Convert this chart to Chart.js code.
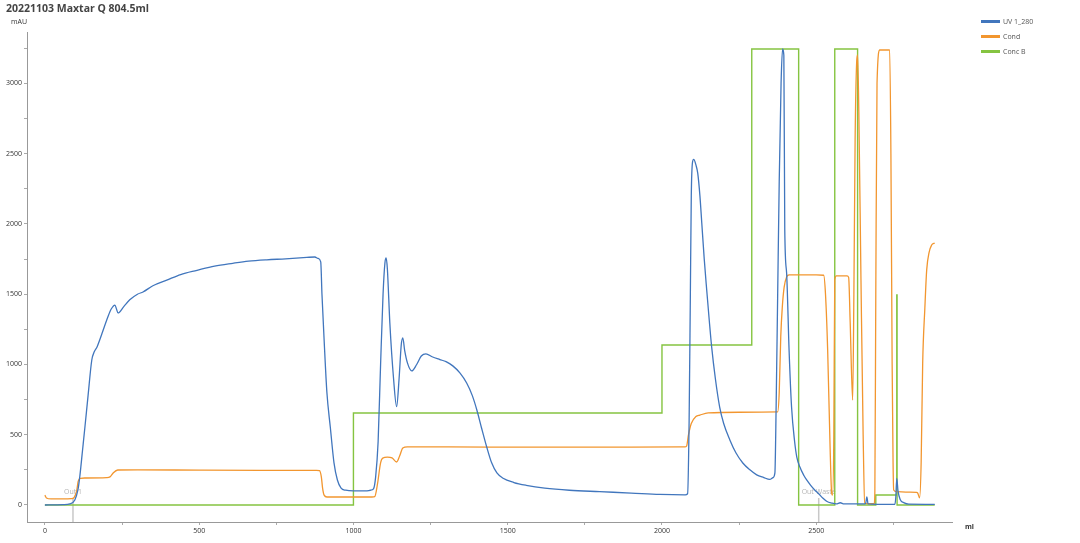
<!DOCTYPE html>
<html>
<head>
<meta charset="utf-8">
<script src="https://cdn.jsdelivr.net/npm/chart.js@4.4.1/dist/chart.umd.min.js"></script>
<style>
  html, body { margin: 0; padding: 0; background: #fff; }
  #wrap { position: relative; width: 1080px; height: 543px; font-family: 'Open Sans', sans-serif; }
  #chart { position: absolute; left: 0; top: 0; }
  #title { position: absolute; left: 6px; top: 0; font-size: 10.5px; line-height: 16px; font-weight: bold; color: #444; }
  .unit { position: absolute; font-size: 7px; line-height: 10px; color: #333; }
  #legend { position: absolute; left: 981px; top: 14px; }
  .lg { display: flex; align-items: center; height: 15px; font-size: 7px; color: #555; white-space: nowrap; }
  .lg .sw { display: inline-block; width: 19px; height: 3px; margin-right: 3px; }
</style>
</head>
<body>
<div id="wrap">
  <canvas id="chart" width="1080" height="543"></canvas>
  <div id="title">20221103 Maxtar Q 804.5ml</div>
  <div class="unit" style="left:11px;top:17px;">mAU</div>
  <div class="unit" style="left:965px;top:522px;font-weight:bold;">ml</div>
  <div id="legend"></div>
</div>
<script>
// UV 1_280 trace (ml, mAU)
const uvMl  = [0, 60, 81, 97, 107, 113, 122, 130, 140, 152, 160, 169, 185, 204, 215, 227, 232, 237, 255, 275,
  300, 318, 350, 395, 440, 493, 550, 609, 660, 719, 780, 849, 875, 885, 894, 898, 905, 914, 925, 937, 948, 960,
  975, 1000, 1040, 1055, 1065, 1072, 1080, 1088, 1096, 1102, 1106, 1110, 1118, 1130, 1140, 1148, 1155, 1160, 1166, 1175,
  1189, 1205, 1220, 1235, 1255, 1280, 1300, 1322, 1345, 1367, 1385, 1400, 1415, 1432, 1448, 1465, 1485, 1520, 1560, 1620,
  1700, 1798, 1900, 1993, 2075, 2083, 2088, 2092, 2095, 2099, 2103, 2110, 2116, 2123, 2129, 2137, 2145, 2153, 2161, 2173,
  2187, 2200, 2220, 2240, 2262, 2285, 2307, 2330, 2349, 2360, 2366, 2370, 2375, 2380, 2386, 2391, 2395, 2398, 2404, 2412,
  2420, 2430, 2437, 2447, 2460, 2469, 2482, 2495, 2508, 2521, 2535, 2550, 2565, 2578, 2590, 2620, 2650, 2660, 2664, 2668,
  2700, 2755, 2758, 2761, 2765, 2772, 2785, 2800, 2884];
const uvMau = [0, 2, 8, 36, 107, 200, 390, 560, 780, 1032, 1090, 1125, 1220, 1338, 1395, 1423, 1395, 1367, 1410, 1460,
  1500, 1516, 1560, 1600, 1640, 1670, 1700, 1720, 1735, 1745, 1752, 1762, 1765, 1755, 1730, 1500, 1174, 800, 555, 300, 178, 120,
  105, 100, 100, 105, 115, 200, 450, 1000, 1500, 1720, 1758, 1680, 1295, 900, 700, 900, 1140, 1190, 1100, 1011,
  954, 1000, 1060, 1075, 1055, 1035, 1020, 990, 940, 868, 780, 676, 550, 413, 300, 228, 190, 160, 140, 120,
  105, 95, 85, 75, 72, 80, 600, 1500, 2200, 2440, 2460, 2420, 2360, 2200, 2007, 1750, 1530, 1320, 1125, 900,
  697, 580, 463, 370, 299, 250, 214, 195, 182, 195, 228, 700, 1500, 2300, 3000, 3245, 3200, 1957, 1650, 1100,
  697, 450, 341, 270, 210, 178, 140, 107, 80, 50, 25, 14, 8, 16, 8, 8, 8, 10, 57, 8,
  5, 5, 60, 190, 100, 40, 15, 6, 5];

// Cond trace (ml, display units)
const condMl  = [0, 5, 20, 60, 85, 95, 103, 108, 115, 130, 200, 211, 222, 236, 300, 500, 700, 880, 890, 896,
  900, 905, 914, 1000, 1060, 1069, 1078, 1088, 1095, 1110, 1125, 1140, 1150, 1160, 1175, 1300, 1600, 1900, 2074, 2080,
  2086, 2095, 2110, 2123, 2150, 2250, 2375, 2380, 2385, 2390, 2396, 2404, 2412, 2500, 2524, 2530, 2537, 2545, 2550, 2553,
  2557, 2560, 2565, 2600, 2605, 2610, 2618, 2622, 2626, 2631, 2634, 2638, 2645, 2652, 2657, 2665, 2688, 2690, 2693, 2697,
  2706, 2738, 2742, 2746, 2749, 2751, 2760, 2800, 2825, 2829, 2835, 2840, 2845, 2852, 2858, 2866, 2874, 2884];
const condVal = [70, 50, 43, 43, 45, 55, 100, 170, 190, 192, 195, 200, 230, 249, 250, 248, 247, 247, 245, 200,
  120, 70, 57, 57, 57, 60, 150, 300, 334, 340, 335, 306, 350, 405, 413, 413, 412, 412, 413, 420,
  500, 580, 630, 640, 655, 660, 662, 800, 1200, 1409, 1550, 1623, 1637, 1637, 1635, 1500, 1103, 400, 85, 71,
  500, 1601, 1630, 1630, 1620, 1300, 747, 1500, 2600, 3150, 3203, 2800, 1600, 500, 14, 10, 10, 100, 1500, 3000,
  3238, 3238, 2500, 1000, 300, 107, 95, 92, 90, 85, 50, 300, 1010, 1400, 1673, 1800, 1850, 1865];

// Conc B steps (value holds from previous step until the given ml)
const concBMl  = [0, 1000, 2000, 2291, 2443, 2560, 2634, 2693, 2761, 2762, 2884];
const concBVal = [0, 655, 1139, 3245, 0, 3245, 0, 71, 1495, 0, 0];

// fraction marks
const fracMl    = [91, 2508];
const fracNames = ['Out 1', 'Out Waste'];

// axis ticks (labels only on every 500)
const xTicks = [0, 250, 500, 750, 1000, 1250, 1500, 1750, 2000, 2250, 2500, 2750];
const yTicks = [0, 250, 500, 750, 1000, 1250, 1500, 1750, 2000, 2250, 2500, 2750, 3000, 3250];

const seriesNames  = ['UV 1_280', 'Cond', 'Conc B'];
const seriesColors = ['#4176bd', '#f2962f', '#85c441'];

const pts = (xs, ys) => xs.map((x, i) => ({ x, y: ys[i] }));

const fractions = {
  id: 'fractions',
  beforeDatasetsDraw(chart) {
    const { ctx, scales: { x, y }, chartArea } = chart;
    ctx.save();
    ctx.font = '7px "Open Sans", sans-serif';
    ctx.textAlign = 'center';
    ctx.textBaseline = 'middle';
    fracMl.forEach((ml, i) => {
      const px = x.getPixelForValue(ml);
      const top = y.getPixelForValue(50);
      ctx.strokeStyle = '#c8c8c8';
      ctx.lineWidth = 1.5;
      ctx.beginPath();
      ctx.moveTo(px, top);
      ctx.lineTo(px, chartArea.bottom);
      ctx.stroke();
      ctx.fillStyle = '#b5b5b5';
      ctx.fillText(fracNames[i], px, top - 6);
    });
    ctx.restore();
  }
};

function axisOpts(min, max, tickVals, fit) {
  return {
    type: 'linear', min, max,
    afterFit: fit,
    afterBuildTicks: s => { s.ticks = tickVals.map(v => ({ value: v })); },
    ticks: {
      autoSkip: false, maxRotation: 0, padding: 2,
      color: '#333', font: { size: 7, family: "'Open Sans', sans-serif" },
      callback: v => (v % 500 === 0 ? String(v) : '')
    },
    grid: { drawOnChartArea: false, tickLength: 3, color: '#aaa' },
    border: { color: '#999' }
  };
}

const chart = new Chart(document.getElementById('chart').getContext('2d'), {
  type: 'line',
  data: {
    datasets: [
      { label: seriesNames[0], data: pts(uvMl, uvMau), borderColor: seriesColors[0], borderWidth: 1.3,
        pointRadius: 0, cubicInterpolationMode: 'monotone' },
      { label: seriesNames[1], data: pts(condMl, condVal), borderColor: seriesColors[1], borderWidth: 1.3,
        pointRadius: 0, cubicInterpolationMode: 'monotone' },
      { label: seriesNames[2], data: pts(concBMl, concBVal), borderColor: seriesColors[2], borderWidth: 1.4,
        pointRadius: 0, stepped: 'before' }
    ]
  },
  options: {
    responsive: false, animation: false,
    layout: { padding: { top: 32, right: 128, bottom: 0, left: 0 } },
    plugins: { legend: { display: false }, tooltip: { enabled: false } },
    scales: {
      x: axisOpts(-58, 2940, xTicks, s => { s.height = 21; }),
      y: axisOpts(-121, 3366, yTicks, s => { s.width = 27; })
    }
  },
  plugins: [fractions]
});

// legend rows from the chart's datasets
document.getElementById('legend').innerHTML = chart.data.datasets.map(d =>
  `<div class="lg"><span class="sw" style="background:${d.borderColor}"></span>${d.label}</div>`).join('');
</script>
</body>
</html>
